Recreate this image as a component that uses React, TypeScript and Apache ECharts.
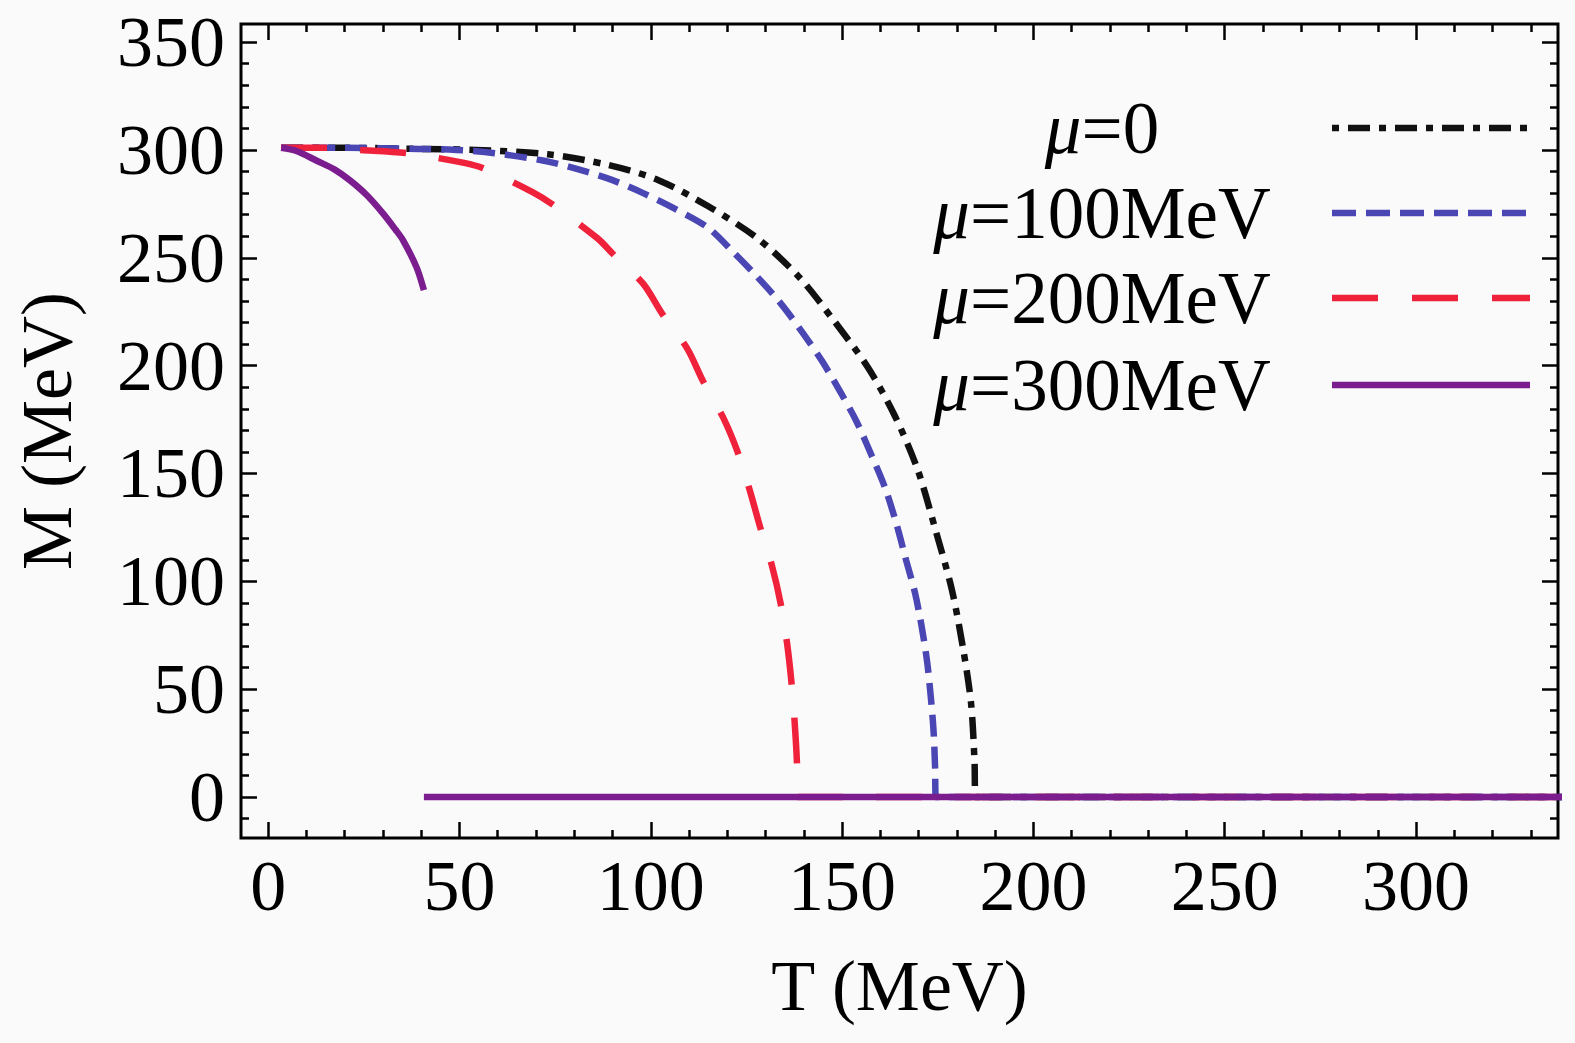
import React, { useEffect, useRef } from 'react';
import * as echarts from 'echarts';

const FONT = "'Liberation Serif', 'Times New Roman', 'DejaVu Serif', serif";

const seriesNames = ['μ=0', 'μ=100MeV', 'μ=200MeV', 'μ=300MeV'];
const seriesColors = ['#111111', '#4a47b5', '#f0213a', '#7b1d8e'];

const xMajor = [0, 50, 100, 150, 200, 250, 300];
const xMinor = [10, 20, 30, 40, 60, 70, 80, 90, 110, 120, 130, 140, 160, 170, 180, 190, 210, 220, 230, 240, 260, 270, 280, 290, 310, 320, 330];
const yMajor = [0, 50, 100, 150, 200, 250, 300, 350];
const yMinor = [-10, 10, 20, 30, 40, 60, 70, 80, 90, 110, 120, 130, 140, 160, 170, 180, 190, 210, 220, 230, 240, 260, 270, 280, 290, 310, 320, 330, 340];

// mu = 0
const mu0: [number, number][] = [
  [3.4, 301], [19.3, 301], [39.2, 300.5], [54.2, 300], [73.1, 298], [89, 293], [102, 286], [114.9, 274],
  [127.9, 259], [138.8, 241], [147.8, 221], [156.8, 199], [163.7, 177], [169.7, 152], [174.7, 122],
  [178.7, 96], [181.7, 68], [183.7, 43.5], [184.6, 17], [184.9, 0], [340, 0],
];
// mu = 100 MeV
const mu100: [number, number][] = [
  [3.4, 301], [19.3, 301], [39.2, 300.5], [49.2, 300], [59.2, 298.5], [72.1, 295], [81.1, 291], [90, 286],
  [98, 280], [106, 273], [114.9, 264], [121.9, 252], [127.9, 241], [133.9, 229], [139.8, 215], [144.8, 202],
  [149.8, 187], [153.8, 174], [157.8, 158], [161.3, 143], [164.3, 126], [166.7, 110], [169, 95],
  [170.7, 80], [172.2, 63], [173.2, 46], [173.9, 30.7], [174.3, 13.8], [174.5, 0], [340, 0],
];
// mu = 200 MeV
const mu200: [number, number][] = [
  [3.4, 301], [14.3, 301], [24.3, 300], [36.3, 298.5], [51.2, 294], [56.2, 291.5], [69.1, 280.5], [74.1, 275],
  [86.1, 259], [90, 252], [98, 238], [103, 224], [109.5, 208], [113.6, 193], [118.9, 176],
  [122.9, 159], [125.9, 142], [128.6, 125], [131.7, 107], [133.9, 90], [135.6, 71.5], [136.8, 52.5],
  [137.6, 34.6], [138.2, 15.8], [138.4, 0], [340, 0],
];
// mu = 300 MeV (jump to zero at T ~ 40.7)
const mu300: [number, number | string][] = [
  [3.4, 301], [7.4, 299.5], [12.7, 295], [17.3, 291], [21.3, 286], [25.8, 279], [30, 270.6],
  [33.3, 263], [35.3, 258], [38.8, 245.5], [40.7, 235], [40.7, '-'], [40.7, 0], [340, 0],
];

const seriesData = [mu0, mu100, mu200, mu300];
const seriesDash: (number[] | 'solid')[] = [[22, 9, 7, 9], [22, 10], [46, 33], 'solid'];
const legendDash: (number[] | undefined)[] = [[7, 9, 22, 9], [24, 10], [46, 34], undefined];

const X_MIN = -7.1, X_MAX = 337.1, Y_MIN = -19, Y_MAX = 358.4;

function App() {
  const ref = useRef<HTMLDivElement>(null);
  useEffect(() => {
    if (!ref.current) return;
    const chart = echarts.init(ref.current, null, { renderer: 'svg' });
    const tickStyle = { color: '#000', width: 2.5 };
    const labelStyle = { color: '#000', fontSize: 72, fontFamily: FONT };
    const xAxisBase = (position: string, ticks: number[], len: number, labels: boolean, name?: string) => ({
      type: 'value', position, min: X_MIN, max: X_MAX,
      axisLine: { show: false, onZero: false },
      axisTick: { show: true, inside: true, length: len, lineStyle: tickStyle, customValues: ticks },
      axisLabel: labels ? { show: true, customValues: ticks, margin: 12, ...labelStyle } : { show: false },
      splitLine: { show: false },
      name: name || '', nameLocation: 'middle', nameGap: 112,
      nameTextStyle: { ...labelStyle },
    });
    const yAxisBase = (position: string, ticks: number[], len: number, labels: boolean, name?: string) => ({
      type: 'value', position, min: Y_MIN, max: Y_MAX,
      axisLine: { show: false, onZero: false },
      axisTick: { show: true, inside: true, length: len, lineStyle: tickStyle, customValues: ticks },
      axisLabel: labels ? { show: true, customValues: ticks, margin: 16, ...labelStyle } : { show: false },
      splitLine: { show: false },
      name: name || '', nameLocation: 'middle', nameGap: 158,
      nameTextStyle: { ...labelStyle },
    });

    const legendY = [128, 213, 298, 385];
    const graphics: any[] = [];
    seriesNames.forEach((n, i) => {
      graphics.push({
        type: 'text', x: 1102, y: legendY[i], z: 10,
        style: {
          text: '{i|μ}' + n.slice(1),
          fill: '#000', font: `73px ${FONT}`, align: 'center', verticalAlign: 'middle',
          rich: { i: { fontStyle: 'italic', fontSize: 73, fontFamily: FONT, fill: '#000' } },
        },
      });
      graphics.push({
        type: 'line', z: 10,
        shape: { x1: 1332, y1: legendY[i], x2: 1530, y2: legendY[i] },
        style: { stroke: seriesColors[i], lineWidth: 6.5, lineDash: legendDash[i] },
      });
    });

    chart.setOption({
      animation: false,
      backgroundColor: '#fafafa',
      grid: { left: 241, right: 17, top: 24, bottom: 205, show: true, borderColor: '#000', borderWidth: 3, backgroundColor: 'transparent' },
      xAxis: [
        xAxisBase('bottom', xMajor, 16, true, 'T (MeV)'),
        xAxisBase('bottom', xMinor, 8, false),
        xAxisBase('top', xMajor, 16, false),
        xAxisBase('top', xMinor, 8, false),
      ],
      yAxis: [
        yAxisBase('left', yMajor, 16, true, 'M (MeV)'),
        yAxisBase('left', yMinor, 8, false),
        yAxisBase('right', yMajor, 16, false),
        yAxisBase('right', yMinor, 8, false),
      ],
      series: seriesData.map((d, i) => ({
        name: seriesNames[i], type: 'line', xAxisIndex: 0, yAxisIndex: 0,
        data: d, showSymbol: false, symbol: 'none', smooth: 0.3,
        clip: true, connectNulls: false, z: 2 + i,
        lineStyle: { color: seriesColors[i], width: 6.5, type: seriesDash[i], cap: 'butt' },
      })),
      graphic: graphics,
    });
    return () => chart.dispose();
  }, []);
  return <div ref={ref} style={{ position: 'fixed', left: 0, top: 0, width: 1575, height: 1043 }} />;
}

export default App;
